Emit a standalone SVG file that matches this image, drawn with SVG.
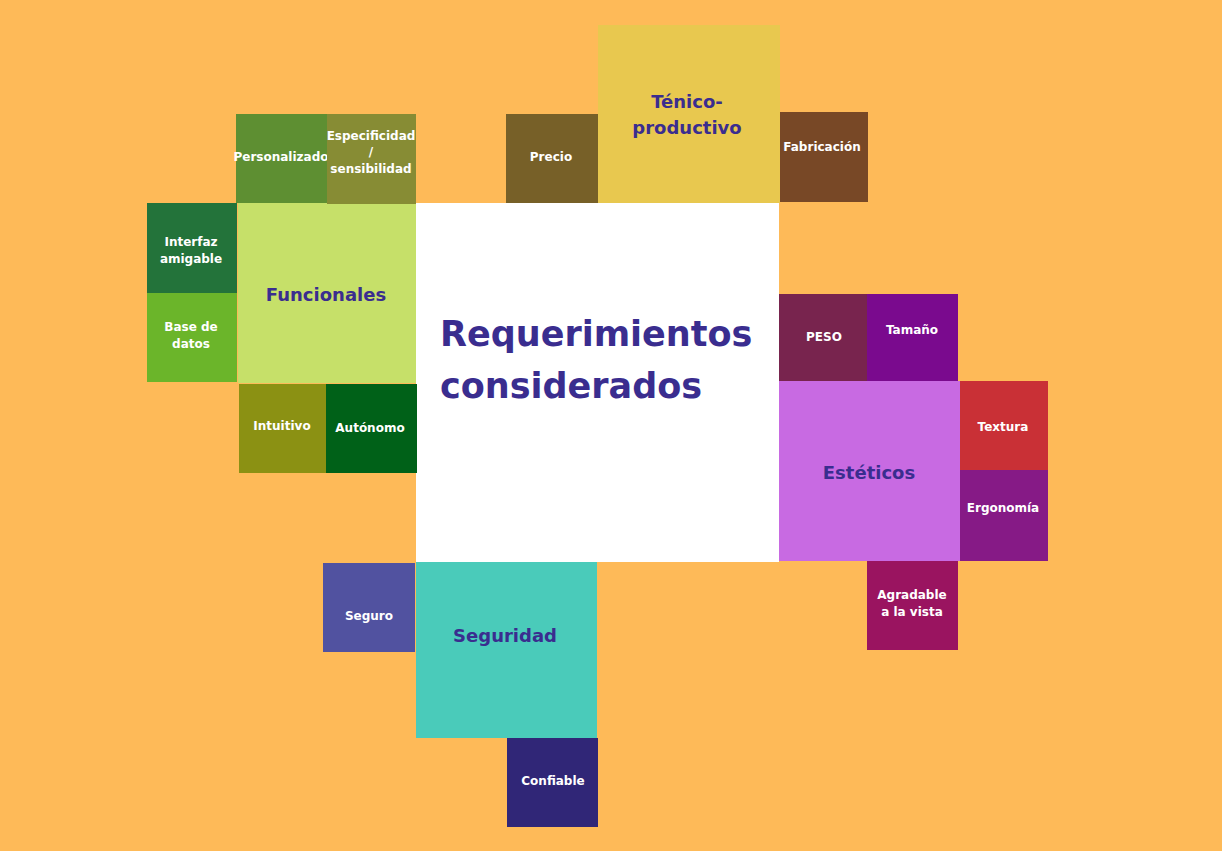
<svg xmlns="http://www.w3.org/2000/svg" width="1222" height="851" viewBox="0 0 1222 851">
<style>
.s{font-family:"DejaVu Sans","Liberation Sans",sans-serif;font-weight:bold;font-size:12px;fill:#ffffff;text-anchor:middle}
.m{font-family:"DejaVu Sans","Liberation Sans",sans-serif;font-weight:bold;font-size:18px;fill:#3a2d8f;text-anchor:middle}
.t{font-family:"DejaVu Sans","Liberation Sans",sans-serif;font-weight:bold;font-size:35px;fill:#3a2d8f}
</style>
<rect x="0" y="0" width="1222" height="851" fill="#feba58"/>
<g id="center"><rect x="416" y="203" width="363" height="359" fill="#ffffff"/>
<text class="t" x="440" y="346">Requerimientos</text><text class="t" x="440" y="398">considerados</text></g>
<g id="funcionales"><rect x="238" y="203" width="178" height="180" fill="#c6e069"/><text class="m" x="326" y="301">Funcionales</text></g>
<g id="personalizado"><rect x="236" y="114" width="91" height="89" fill="#5e8f32"/><text class="s" x="281" y="161">Personalizado</text></g>
<g id="especificidad"><rect x="327" y="114" width="89" height="90" fill="#878c34"/><text class="s" x="371" y="140">Especificidad</text><text class="s" x="371" y="156">/</text><text class="s" x="371" y="173">sensibilidad</text></g>
<g id="interfaz"><rect x="147" y="203" width="90" height="90" fill="#23733a"/><text class="s" x="191" y="246">Interfaz</text><text class="s" x="191" y="263">amigable</text></g>
<g id="basedatos"><rect x="147" y="293" width="90" height="89" fill="#6bb52a"/><text class="s" x="191" y="331">Base de</text><text class="s" x="191" y="348">datos</text></g>
<g id="intuitivo"><rect x="239" y="384" width="87" height="89" fill="#8b9113"/><text class="s" x="282" y="430">Intuitivo</text></g>
<g id="autonomo"><rect x="326" y="384" width="91" height="89" fill="#006118"/><text class="s" x="370" y="432">Autónomo</text></g>
<g id="tecnico"><rect x="598" y="25" width="182" height="178" fill="#e8c84f"/><text class="m" x="687" y="108">Ténico-</text><text class="m" x="687" y="134">productivo</text></g>
<g id="precio"><rect x="506" y="114" width="92" height="89" fill="#776028"/><text class="s" x="551" y="161">Precio</text></g>
<g id="fabricacion"><rect x="780" y="112" width="88" height="90" fill="#784826"/><text class="s" x="822" y="151">Fabricación</text></g>
<g id="peso"><rect x="779" y="294" width="88" height="87" fill="#78244e"/><text class="s" x="824" y="341">PESO</text></g>
<g id="tamano"><rect x="867" y="294" width="91" height="87" fill="#7a0a8e"/><text class="s" x="912" y="334">Tamaño</text></g>
<g id="esteticos"><rect x="779" y="381" width="181" height="180" fill="#c86ae2"/><text class="m" x="869" y="479">Estéticos</text></g>
<g id="textura"><rect x="960" y="381" width="88" height="89" fill="#c93036"/><text class="s" x="1003" y="431">Textura</text></g>
<g id="ergonomia"><rect x="960" y="470" width="88" height="91" fill="#861a86"/><text class="s" x="1003" y="512">Ergonomía</text></g>
<g id="agradable"><rect x="867" y="561" width="91" height="89" fill="#9a1460"/><text class="s" x="912" y="599">Agradable</text><text class="s" x="912" y="616">a la vista</text></g>
<g id="seguro"><rect x="323" y="563" width="92" height="89" fill="#5152a0"/><text class="s" x="369" y="620">Seguro</text></g>
<g id="seguridad"><rect x="416" y="562" width="181" height="176" fill="#4acbba"/><text class="m" x="505" y="642">Seguridad</text></g>
<g id="confiable"><rect x="507" y="738" width="91" height="89" fill="#302677"/><text class="s" x="553" y="785">Confiable</text></g>
<g id="connectors"></g>
</svg>
